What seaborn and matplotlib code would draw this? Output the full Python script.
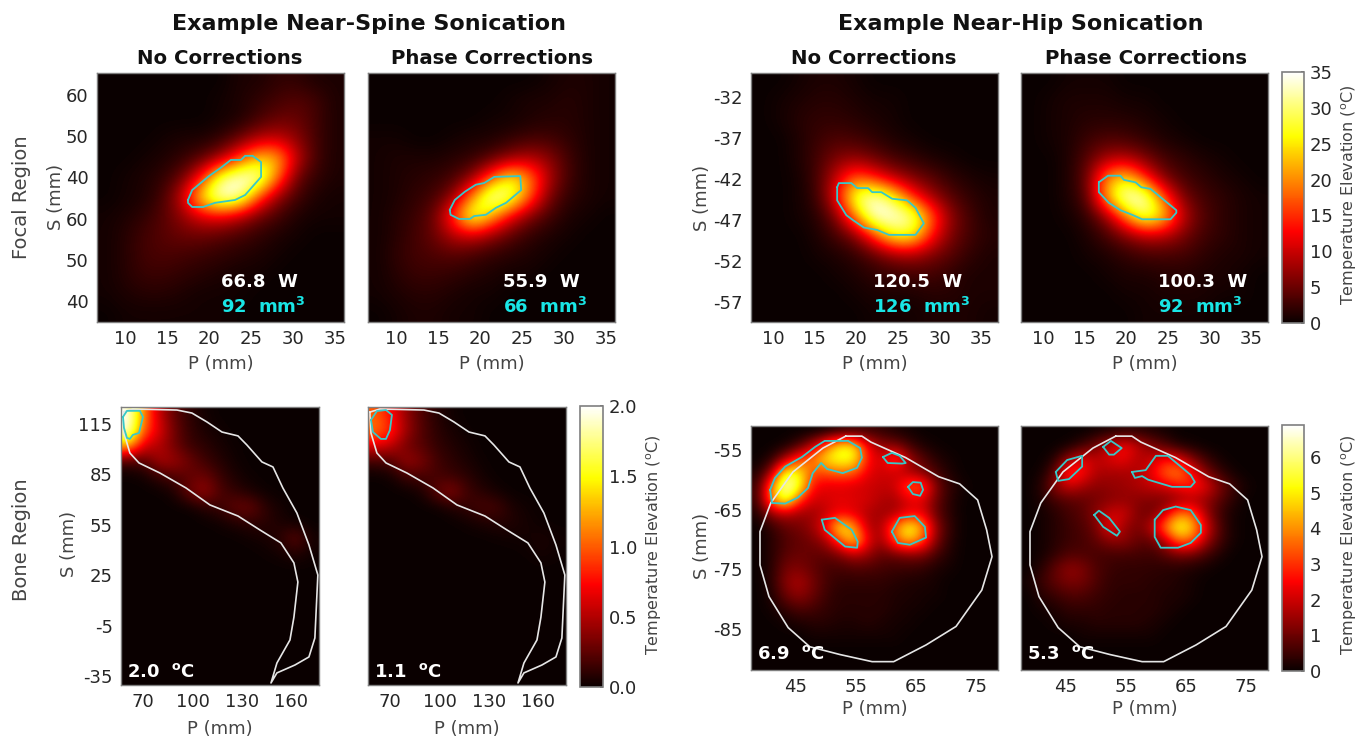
import matplotlib
matplotlib.use("Agg")
import matplotlib.pyplot as plt
import numpy as np
import seaborn as sns

# temperature grids (rows top to bottom, deg C)
spine_none = [
    [0, 0, 0, 0, 0, 0, 0, 1, 1, 2, 2, 1, 1],
    [0, 0, 0, 0, 0, 0, .5, 1, 2, 3, 4, 3, 1],
    [0, 0, 0, 0, 0, 0, .5, 1, 3, 5, 5, 3, 1],
    [0, 0, 0, .5, 1, 1, 2, 5, 9, 10, 7, 3, 1],
    [0, 0, .5, 1, 2, 4, 8, 16, 24, 23, 10, 3, 1],
    [0, .5, 1, 2, 5, 14, 30, 35, 34, 19, 5, 2, 1],
    [0, .5, 1, 3, 10, 26, 35, 33, 17, 7, 3, 1, .5],
    [.5, 1, 2, 4, 7, 11, 12, 9, 5, 3, 1, .5, .5],
    [.5, 1.5, 3, 4, 5, 5, 4, 3, 2, 1, .5, 0, 0],
    [.5, 1.5, 3, 3.5, 3, 2.5, 2, 1.5, 1, .5, 0, 0, 0],
    [.5, 1.5, 2.5, 2.5, 2, 1.5, 1, .5, .5, 0, 0, 0, 0],
    [.5, 1, 1.5, 1.5, 1, .5, .5, .5, 0, 0, 0, 0, 0],
    [0, .5, .5, .5, .5, .5, .5, 0, 0, 0, 0, 0, 0],
]
spine_phase = [
    [0, 0, 0, 0, 0, 0, 0, 0, 0, .5, 1, 1, .5],
    [0, 0, 0, 0, 0, 0, 0, .5, 1, 1, 1.5, 1, .5],
    [0, 0, 0, 0, 0, 0, .5, .5, 1, 1.5, 1.5, 1, .5],
    [.5, .5, 0, 0, .5, 1, 1, 2, 3, 3, 2, 1, .5],
    [.5, 1, 1, 1, 1.5, 2, 4, 7, 9, 7, 3, 1, .5],
    [.5, 1, 1.5, 2, 3, 7, 17, 27, 20, 9, 3, 1, .5],
    [.5, 1, 2, 3, 7, 20, 35, 31, 18, 6, 2, 1, .5],
    [.5, 1.5, 2.5, 5, 16, 31, 22, 12, 6, 3, 1, .5, 0],
    [.5, 1.5, 3, 5, 9, 10, 7, 4, 2, 1, .5, 0, 0],
    [.5, 2, 3, 3.5, 4, 3, 2, 1.5, 1, .5, 0, 0, 0],
    [.5, 1.5, 2.5, 2.5, 2, 1.5, 1, .5, .5, 0, 0, 0, 0],
    [.5, 1, 1.5, 1.5, 1, .5, .5, 0, 0, 0, 0, 0, 0],
    [0, .5, 1, 1, .5, .5, 0, 0, 0, 0, 0, 0, 0],
]
hip_none = [
    [0, 0, .5, 1, 1, .5, 0, 0, 0, 0, 0, 0, 0],
    [0, .5, 1, 1.5, 1.5, 1, .5, .5, 0, 0, 0, 0, 0],
    [0, .5, 1.5, 2, 2, 1.5, 1, .5, 0, 0, 0, 0, 0],
    [0, 0, 1, 2.5, 3.5, 3, 2, 1, .5, 0, 0, 0, 0],
    [0, 0, 1, 3, 6, 7, 5, 3, 2, 1, .5, 0, 0],
    [0, 0, .5, 3, 10, 18, 14, 9, 6, 4, 2, 1, .5],
    [0, 0, .5, 2.5, 12, 30, 34, 27, 15, 8, 4, 2, 1],
    [0, 0, .5, 1.5, 6, 20, 35, 35, 32, 18, 7, 3, 1],
    [0, 0, 0, 1, 3, 6, 16, 27, 27, 14, 6, 3, 1.5],
    [0, 0, 0, .5, 1, 2, 4, 7, 8, 6, 4, 2, 1],
    [0, 0, 0, 0, .5, 1, 2, 2.5, 3, 3, 2, 1, 1],
    [0, 0, 0, 0, 0, .5, 1, 1, 1, 1.5, 1.5, 1, 1],
    [0, 0, 0, 0, 0, 0, .5, .5, .5, 1, 1, 1, .5],
]
hip_phase = [
    [0, 0, .5, .5, .5, 0, 0, 0, 0, 0, 0, 0, 0],
    [0, .5, 1, 1, 1, .5, .5, 0, 0, 0, 0, 0, 0],
    [0, .5, 1, 1.5, 1.5, 1.5, 1, .5, 0, 0, 0, 0, 0],
    [0, .5, 1, 2.5, 3.5, 3, 2, 1, .5, 0, 0, 0, 0],
    [0, 0, 1, 4, 8, 9, 6, 3, 2, 1, .5, 0, 0],
    [0, 0, 1, 5, 20, 25, 15, 6, 3, 2, 1, .5, 0],
    [0, 0, 1, 4, 22, 35, 34, 17, 6, 3, 2, 1, .5],
    [0, 0, .5, 2, 7, 19, 31, 25, 10, 4, 2, 1, .5],
    [0, 0, 0, 1, 3, 6, 9, 9, 6, 3, 2, 1, .5],
    [0, 0, 0, .5, 1, 2, 3, 3, 3, 2, 1, 1, .5],
    [0, 0, 0, 0, .5, 1, 1, 1.5, 1.5, 1, 1, .5, 0],
    [0, 0, 0, 0, 0, .5, .5, 1, 1, 1, .5, .5, 0],
    [0, 0, 0, 0, 0, 0, .5, .5, .5, .5, 0, 0, 0],
]
blank_13 = [0] * 13
spine_bone_none = [
    [2.0, 1.1, .55, .25, .1, .03, 0, 0, 0, 0, 0, 0, 0],
    [2.0, 1.0, .65, .3, .12, .05, .02, 0, 0, 0, 0, 0, 0],
    [1.3, .6, .5, .3, .14, .1, .04, .01, 0, 0, 0, 0, 0],
    [.15, .2, .48, .45, .3, .15, .08, .02, 0, 0, 0, 0, 0],
    [0, .02, .12, .2, .25, .3, .14, .05, .01, 0, 0, 0, 0],
    [0, 0, 0, .05, .3, .45, .2, .12, .05, .01, 0, 0, 0],
    [0, 0, 0, 0, 0, .08, .14, .28, .3, .1, .03, 0, 0],
    [0, 0, 0, 0, 0, 0, .02, .06, .1, .1, .05, .01, 0],
    [0, 0, 0, 0, 0, 0, 0, 0, .02, .04, .1, .28, .03],
    [0, 0, 0, 0, 0, 0, 0, 0, 0, .01, .03, .07, .02],
    blank_13, blank_13, blank_13, blank_13, blank_13, blank_13, blank_13, blank_13,
]
spine_bone_phase = [
    [1.0, .75, .4, .2, .08, .02, 0, 0, 0, 0, 0, 0, 0],
    [1.1, .85, .45, .22, .1, .04, .01, 0, 0, 0, 0, 0, 0],
    [.65, .55, .3, .22, .12, .07, .03, 0, 0, 0, 0, 0, 0],
    [.15, .2, .45, .35, .17, .1, .05, .01, 0, 0, 0, 0, 0],
    [0, .02, .15, .18, .18, .14, .1, .03, 0, 0, 0, 0, 0],
    [0, 0, 0, .04, .25, .4, .16, .09, .03, 0, 0, 0, 0],
    [0, 0, 0, 0, 0, .06, .12, .2, .18, .05, .02, 0, 0],
    [0, 0, 0, 0, 0, 0, .02, .05, .08, .07, .03, .01, 0],
    [0, 0, 0, 0, 0, 0, 0, 0, .01, .02, .03, .05, .02],
    [0, 0, 0, 0, 0, 0, 0, 0, 0, 0, .01, .04, .01],
    blank_13, blank_13, blank_13, blank_13, blank_13, blank_13, blank_13, blank_13,
]
hip_bone_none = [
    [0, 0, 0, 0, 0, .1, .3, .4, .5, .4, .2, .1, 0, 0, 0, 0, 0, 0],
    [0, 0, .1, .6, 1.8, 3.5, 5.2, 5.0, 2.4, 1.4, 1.2, .6, .2, .05, 0, 0, 0, 0],
    [0, .3, 1.6, 3.2, 3.9, 5.0, 5.5, 5.3, 2.7, 2.0, 3.5, 1.6, .8, .3, .1, 0, 0, 0],
    [.2, 1.5, 5.5, 5.2, 3.2, 3.3, 3.6, 3.4, 2.3, 2.0, 2.0, 1.6, 1.2, .6, .2, 0, 0, 0],
    [.5, 3.8, 6.9, 5.5, 2.6, 2.2, 2.2, 2.1, 2.0, 1.9, 2.0, 3.5, 3.5, 1.2, .4, .1, 0, 0],
    [.5, 3.9, 5.8, 3.2, 2.0, 2.1, 2.3, 2.2, 2.1, 1.7, 1.6, 2.2, 2.2, 1.0, .3, 0, 0, 0],
    [.2, 1.4, 1.8, 1.5, 1.5, 1.9, 2.4, 2.2, 1.7, 1.5, 1.6, 2.3, 2.3, .9, .3, 0, 0, 0],
    [0, .4, .9, 1.1, 1.5, 2.7, 5.4, 4.2, 1.8, 1.6, 3.8, 5.6, 4.2, 1.4, .4, 0, 0, 0],
    [0, .3, .7, .9, 1.1, 1.6, 3.3, 5.0, 2.4, 1.4, 3.4, 4.6, 3.4, 1.2, .3, 0, 0, 0],
    [0, .3, .8, 1.0, .9, .9, 1.2, 1.8, 1.5, .9, 1.0, 1.2, 1.2, .6, .2, 0, 0, 0],
    [0, .3, 1.1, 1.2, .9, .6, .6, .7, .7, .6, .5, .5, .4, .2, .1, 0, 0, 0],
    [0, .3, 1.3, 1.7, 1.1, .6, .4, .4, .4, .4, .3, .2, .2, .1, 0, 0, 0, 0],
    [0, .2, 1.0, 1.4, 1.0, .5, .3, .3, .3, .3, .2, .2, .1, .1, 0, 0, 0, 0],
    [0, .1, .4, .7, .6, .4, .3, .3, .3, .3, .2, .1, .1, 0, 0, 0, 0, 0],
    [0, 0, .1, .2, .3, .3, .2, .2, .3, .2, .1, .1, 0, 0, 0, 0, 0, 0],
    [0, 0, 0, 0, .1, .1, .1, .1, .1, .1, .1, 0, 0, 0, 0, 0, 0, 0],
    [0] * 18,
    [0] * 18,
]
hip_bone_phase = [
    [0, 0, 0, 0, 0, .1, .2, .3, .3, .2, .1, 0, 0, 0, 0, 0, 0, 0],
    [0, 0, 0, .1, .5, 1.1, 1.9, 2.6, 1.9, 1.2, .7, .2, .1, 0, 0, 0, 0, 0],
    [0, 0, .3, 1.5, 2.3, 1.8, 2.2, 2.4, 1.7, 1.9, 2.6, 2.3, 1.2, .5, .1, 0, 0, 0],
    [0, .1, .9, 3.3, 2.6, 1.7, 1.6, 1.6, 1.7, 2.3, 3.6, 4.0, 2.6, 1.2, .5, .1, 0, 0],
    [0, .3, 1.4, 2.0, 1.6, 1.3, 1.4, 1.5, 1.7, 1.9, 2.1, 2.6, 2.9, 2.3, 1.2, .5, .1, 0],
    [0, .2, .6, .8, .9, 1.1, 1.3, 1.4, 1.3, 1.2, 1.1, 1.3, 1.6, 1.4, .8, .3, 0, 0],
    [0, .1, .3, .6, .8, 1.4, 2.0, 2.1, 1.2, 1.0, 1.9, 3.8, 3.4, 1.5, .5, .1, 0, 0],
    [0, .1, .3, .5, .7, 1.1, 2.6, 1.5, 1.1, 1.8, 3.9, 5.6, 4.7, 2.2, .7, .1, 0, 0],
    [0, .1, .3, .5, .6, .9, 1.3, 1.4, .9, .9, 1.7, 3.7, 3.4, 1.6, .6, .1, 0, 0],
    [0, .1, .4, .7, .7, .6, .6, .6, .6, .5, .8, 1.1, 1.0, .6, .2, 0, 0, 0],
    [0, .3, .9, 1.4, 1.2, .7, .5, .4, .4, .4, .3, .3, .2, .1, 0, 0, 0, 0],
    [.1, .5, .9, 1.2, 1.1, .7, .4, .4, .4, .3, .3, .2, .1, 0, 0, 0, 0, 0],
    [0, .3, .5, .7, .7, .5, .4, .3, .3, .3, .2, .2, .1, 0, 0, 0, 0, 0],
    [0, .1, .2, .4, .4, .4, .3, .3, .3, .3, .2, .1, 0, 0, 0, 0, 0, 0],
    [0, 0, .1, .2, .2, .3, .3, .3, .3, .2, .1, 0, 0, 0, 0, 0, 0, 0],
    [0, 0, 0, 0, .1, .1, .1, .1, .1, .1, 0, 0, 0, 0, 0, 0, 0, 0],
    [0] * 18,
    [0] * 18,
]

# outlines in mm (P, S)
spine_bone_outline = [
    (57.9, 122.1), (63.9, 123.9), (90.6, 123.3), (99.7, 121.5), (108.8, 116.2), (117.9, 110.2),
    (127.6, 107.9), (133.0, 102.5), (142.1, 92.4), (148.8, 89.4), (154.8, 76.9), (163.3, 62.0),
    (170.6, 43.0), (176.0, 25.1), (174.2, -12.4), (170.6, -23.7), (162.1, -28.5), (151.2, -33.2),
    (147.6, -39.2), (151.2, -27.3), (159.1, -13.6), (161.5, 0.0), (163.9, 20.9), (161.5, 32.3),
    (153.6, 44.2), (140.9, 51.9), (127.6, 60.2), (110.6, 66.8), (96.1, 76.9), (80.3, 85.8),
    (67.6, 91.8), (62.1, 97.7), (58.5, 109.6), (57.9, 119.8),
]
hip_bone_outline = [
    (53.3, -52.7), (56.0, -52.7), (57.5, -53.7), (63.3, -56.3), (68.8, -59.5), (72.3, -60.7),
    (75.3, -63.4), (76.8, -68.4), (77.7, -72.9), (76.0, -78.5), (71.7, -84.6), (66.7, -87.7),
    (61.3, -90.5), (57.7, -90.5), (52.3, -89.3), (47.3, -88.0), (43.7, -84.8), (40.5, -79.6),
    (39.0, -74.3), (39.0, -68.7), (40.8, -63.9), (44.5, -58.7), (49.5, -54.7),
]

spine_none_iso = [[
    (17.5, 34.5), (18.0, 36.9), (20.0, 40.3), (21.4, 42.3), (22.6, 44.2), (23.8, 44.2), (24.3, 45.2), (25.2, 45.2),
    (26.2, 43.7), (26.2, 40.1), (24.3, 35.7), (23.1, 34.5), (20.7, 33.8), (19.3, 32.8), (18.0, 32.8), (17.5, 33.8),
]]
spine_phase_iso = [[
    (16.4, 32.1), (17.0, 34.5), (18.2, 36.5), (19.5, 38.2), (20.5, 38.6), (21.7, 40.1), (24.8, 40.3), (24.9, 36.9),
    (23.1, 33.8), (21.9, 32.6), (20.7, 30.9), (19.3, 30.6), (18.8, 29.9), (17.5, 29.9), (16.5, 30.9),
]]
hip_none_iso = [[
    (17.7, -43.0), (17.9, -42.5), (19.4, -42.5), (20.1, -43.1), (21.4, -43.1), (21.9, -43.6), (23.0, -43.6),
    (24.3, -44.4), (26.1, -44.6), (27.1, -45.5), (28.1, -47.4), (27.1, -48.8), (23.9, -48.8), (22.5, -48.2),
    (20.9, -47.9), (19.6, -47.0), (18.8, -46.4), (17.7, -44.6),
]]
hip_phase_iso = [[
    (16.7, -42.4), (17.8, -41.6), (19.3, -41.6), (19.7, -42.1), (21.1, -42.4), (21.8, -43.0), (22.9, -43.2),
    (26.0, -45.8), (26.0, -46.1), (25.3, -46.9), (21.9, -46.9), (20.8, -46.4), (19.3, -45.8), (17.9, -44.9),
    (16.7, -43.6),
]]
spine_bone_none_iso = [[
    (57.9, 119.2), (60.3, 122.8), (68.2, 122.8), (70.0, 119.2), (67.6, 109.6), (63.9, 108.5), (62.1, 106.1),
    (60.3, 106.7), (58.5, 112.7),
]]
spine_bone_phase_iso = [[
    (58.5, 117.4), (62.1, 122.7), (67.6, 123.3), (71.2, 120.4), (70.0, 111.4), (67.6, 106.1), (64.5, 106.1),
    (59.7, 110.2),
]]
hip_bone_none_iso = [
    [(40.7, -61.7), (41.5, -59.7), (43.2, -57.8), (46.0, -56.2), (48.2, -54.5), (49.8, -53.5), (53.7, -53.5),
     (55.7, -54.7), (56.0, -56.3), (55.2, -58.0), (52.8, -58.9), (50.2, -58.2), (49.2, -57.2), (47.8, -58.9),
     (47.0, -61.4), (45.3, -63.0), (43.2, -64.0), (41.0, -63.9)],
    [(59.5, -56.2), (61.0, -55.5), (62.3, -56.0), (63.3, -57.2), (62.7, -57.3), (60.3, -57.2)],
    [(63.7, -61.2), (64.5, -60.4), (65.8, -60.5), (66.2, -61.7), (65.7, -62.7), (64.5, -62.4)],
    [(49.3, -66.7), (51.5, -66.4), (54.3, -68.4), (55.3, -70.4), (55.2, -71.4), (53.2, -71.2), (49.8, -68.4)],
    [(61.0, -68.7), (62.3, -66.4), (64.8, -66.1), (66.5, -67.9), (66.7, -69.7), (64.0, -70.9), (62.0, -70.6)],
]
hip_bone_phase_iso = [
    [(43.3, -58.7), (45.2, -56.7), (47.7, -56.0), (47.7, -57.8), (45.5, -59.9), (43.7, -60.2)],
    [(51.2, -54.5), (52.5, -53.5), (54.3, -54.7), (53.0, -55.8), (52.2, -55.8)],
    [(56.0, -58.7), (58.3, -58.4), (60.0, -56.0), (62.0, -56.0), (65.8, -59.2), (66.5, -60.4), (65.8, -61.2),
     (62.7, -61.2), (58.7, -60.0), (57.7, -59.4), (56.5, -59.7)],
    [(49.7, -65.9), (50.5, -65.2), (52.2, -66.4), (54.0, -68.7), (53.5, -69.4), (51.2, -67.9)],
    [(59.8, -66.7), (61.2, -65.1), (63.3, -64.5), (65.8, -65.1), (67.5, -67.6), (67.5, -68.9), (65.8, -70.6),
     (63.7, -71.4), (60.8, -71.4), (59.8, -69.6)],
]

focal_p_ticks = [10, 15, 20, 25, 30, 35]
spine_s_ticks = [60, 50, 40, 30, 20, 10]
spine_s_labels = ["60", "50", "40", "60", "50", "40"]
hip_s_ticks = [-32, -37, -42, -47, -52, -57]
spine_bone_p_ticks = [70, 100, 130, 160]
spine_bone_s_ticks = [115, 85, 55, 25, -5, -35]
hip_bone_p_ticks = [45, 55, 65, 75]
hip_bone_s_ticks = [-55, -65, -75, -85]
cbar_focal_ticks = [0, 5, 10, 15, 20, 25, 30, 35]
cbar_spine_bone_ticks = [0.0, 0.5, 1.0, 1.5, 2.0]
cbar_hip_bone_ticks = [0, 1, 2, 3, 4, 5, 6]

W, H = 1357, 738
TEXT = "#262626"
GREY = "#444444"
CYAN_LINE = "#38c8c8"

sns.set_theme(style="white")
plt.rcParams["font.family"] = ["DejaVu Sans"]
plt.rcParams["mathtext.fontset"] = "dejavusans"

fig = plt.figure(figsize=(W / 100, H / 100), dpi=100, facecolor="white")


def rect(left, top, right, bottom):
    return [left / W, 1 - bottom / H, (right - left) / W, (bottom - top) / H]


def frame(ax):
    for s in ax.spines.values():
        s.set_visible(True)
        s.set_color("#7f7f7f")
        s.set_linewidth(1)


def panel(box, grid, xlim, ylim, vmax, xticks, yticks, ylabels=None, outline=None, iso=(), cbar_box=None, cbar_ticks=None, xpad=5):
    ax = fig.add_axes(rect(*box))
    data = np.array(grid, dtype=float)
    nr, nc = data.shape
    cax = fig.add_axes(rect(*cbar_box)) if cbar_box else None
    sns.heatmap(data, ax=ax, cmap="hot", vmin=0, vmax=vmax, cbar=cax is not None, cbar_ax=cax,
                xticklabels=False, yticklabels=False)
    if cax is not None:
        cb = ax.collections[0].colorbar
        cb.set_ticks(cbar_ticks)
        cb.set_ticklabels([str(t) for t in cbar_ticks], fontsize=13, color=TEXT)
        cb.ax.tick_params(right=True, direction="in", length=2, color="#555555", pad=4)
        cb.outline.set_edgecolor("#7f7f7f")
        cb.outline.set_linewidth(1.2)
    # the cells are coarse, so show them smoothed like the scanner map
    ax.imshow(data, extent=(0, nc, nr, 0), aspect="auto", cmap="hot", vmin=0, vmax=vmax,
              interpolation="bicubic", zorder=1.5)
    ax.set_xlim(0, nc)
    ax.set_ylim(nr, 0)

    def to_x(p):
        return (np.asarray(p, dtype=float) - xlim[0]) / (xlim[1] - xlim[0]) * nc

    def to_y(s):
        return (ylim[0] - np.asarray(s, dtype=float)) / (ylim[0] - ylim[1]) * nr

    ax.set_xticks(to_x(xticks))
    ax.set_xticklabels([str(t) for t in xticks], rotation=0, fontsize=13, color=TEXT)
    ax.set_yticks(to_y(yticks))
    ax.set_yticklabels(ylabels if ylabels else [str(t) for t in yticks], rotation=0, fontsize=13, color=TEXT)
    ax.set_xlabel("P (mm)", fontsize=13, color=GREY, labelpad=xpad)
    ax.tick_params(direction="in", length=2.5, width=0.7, color="#555555", bottom=True, left=True, pad=6)
    frame(ax)

    if outline:
        pts = np.array(outline + outline[:1])
        ax.plot(to_x(pts[:, 0]), to_y(pts[:, 1]), color="#e6e6e6", lw=1.2, zorder=3)
    for loop in iso:
        pts = np.array(loop + loop[:1])
        ax.plot(to_x(pts[:, 0]), to_y(pts[:, 1]), color=CYAN_LINE, lw=1.3, zorder=3)
    return ax


def px_text(x, y, s, **kw):
    kw.setdefault("ha", "center")
    kw.setdefault("va", "center")
    fig.text(x / W, 1 - y / H, s, **kw)


focal_spine = (6.67, 36.07), (65.3, 4.9)
focal_hip = (7.36, 37.0), (-29.1, -59.4)
bone_spine = (56.7, 176.7), (125.1, -40.4)
bone_hip = (37.5, 78.7), (-51.0, -91.9)

panel((97, 73, 344, 322), spine_none, *focal_spine, 35, focal_p_ticks, spine_s_ticks, spine_s_labels, iso=spine_none_iso)
panel((368, 73, 615, 322), spine_phase, *focal_spine, 35, focal_p_ticks, [], iso=spine_phase_iso)
panel((751, 73, 998, 322), hip_none, *focal_hip, 35, focal_p_ticks, hip_s_ticks, iso=hip_none_iso)
panel((1021, 73, 1268, 322), hip_phase, *focal_hip, 35, focal_p_ticks, [], iso=hip_phase_iso,
      cbar_box=(1282, 72, 1304, 323), cbar_ticks=cbar_focal_ticks)

panel((121, 407, 319, 685), spine_bone_none, *bone_spine, 2.0, spine_bone_p_ticks, spine_bone_s_ticks,
      outline=spine_bone_outline, iso=spine_bone_none_iso, xpad=6)
panel((368, 407, 566, 685), spine_bone_phase, *bone_spine, 2.0, spine_bone_p_ticks, [],
      outline=spine_bone_outline, iso=spine_bone_phase_iso, cbar_box=(580, 406, 603, 687),
      cbar_ticks=cbar_spine_bone_ticks, xpad=6)

panel((751, 426, 998, 670), hip_bone_none, *bone_hip, 6.9, hip_bone_p_ticks, hip_bone_s_ticks,
      outline=hip_bone_outline, iso=hip_bone_none_iso, xpad=3)
panel((1021, 426, 1268, 670), hip_bone_phase, *bone_hip, 6.9, hip_bone_p_ticks, [],
      outline=hip_bone_outline, iso=hip_bone_phase_iso, cbar_box=(1282, 425, 1304, 671),
      cbar_ticks=cbar_hip_bone_ticks, xpad=3)

# titles
px_text(369, 24, "Example Near-Spine Sonication", fontsize=16, fontweight="bold", color="#111111")
px_text(1021, 24, "Example Near-Hip Sonication", fontsize=16, fontweight="bold", color="#111111")
for x, s in [(220, "No Corrections"), (492, "Phase Corrections"), (874, "No Corrections"), (1146, "Phase Corrections")]:
    px_text(x, 58, s, fontsize=14.2, fontweight="bold", color="#111111")

# row and axis labels
px_text(22, 197, "Focal Region", fontsize=14, rotation=90, color=GREY)
px_text(22, 540, "Bone Region", fontsize=14, rotation=90, color=GREY)
for x, y in [(56, 197), (69, 544), (702, 198), (702, 546)]:
    px_text(x, y, "S (mm)", fontsize=13, rotation=90, color=GREY)
cbar_label = "Temperature Elevation ($^{\\mathrm{o}}$C)"
for x, y in [(1349, 195), (654, 545), (1349, 545)]:
    px_text(x, y, cbar_label, fontsize=11.5, rotation=90, color=GREY)

# numbers inside the maps
bold3 = "$\\mathbf{^{3}}$"
for x, w, v in [(221, "66.8  W", "92"), (503, "55.9  W", "66"), (873, "120.5  W", "126"), (1158, "100.3  W", "92")]:
    px_text(x, 282, w, fontsize=13, fontweight="bold", color="white", ha="left")
    px_text(x, 307, v + "  mm" + bold3, fontsize=13, fontweight="bold", color="#19e6e6", ha="left")
deg = "$\\mathbf{^{o}}$"
for x, y, s in [(127, 672, "2.0"), (374, 672, "1.1"), (757, 654, "6.9"), (1027, 654, "5.3")]:
    px_text(x, y, s + "  " + deg + "C", fontsize=13, fontweight="bold", color="white", ha="left")

fig.savefig("out.png", dpi=100)
